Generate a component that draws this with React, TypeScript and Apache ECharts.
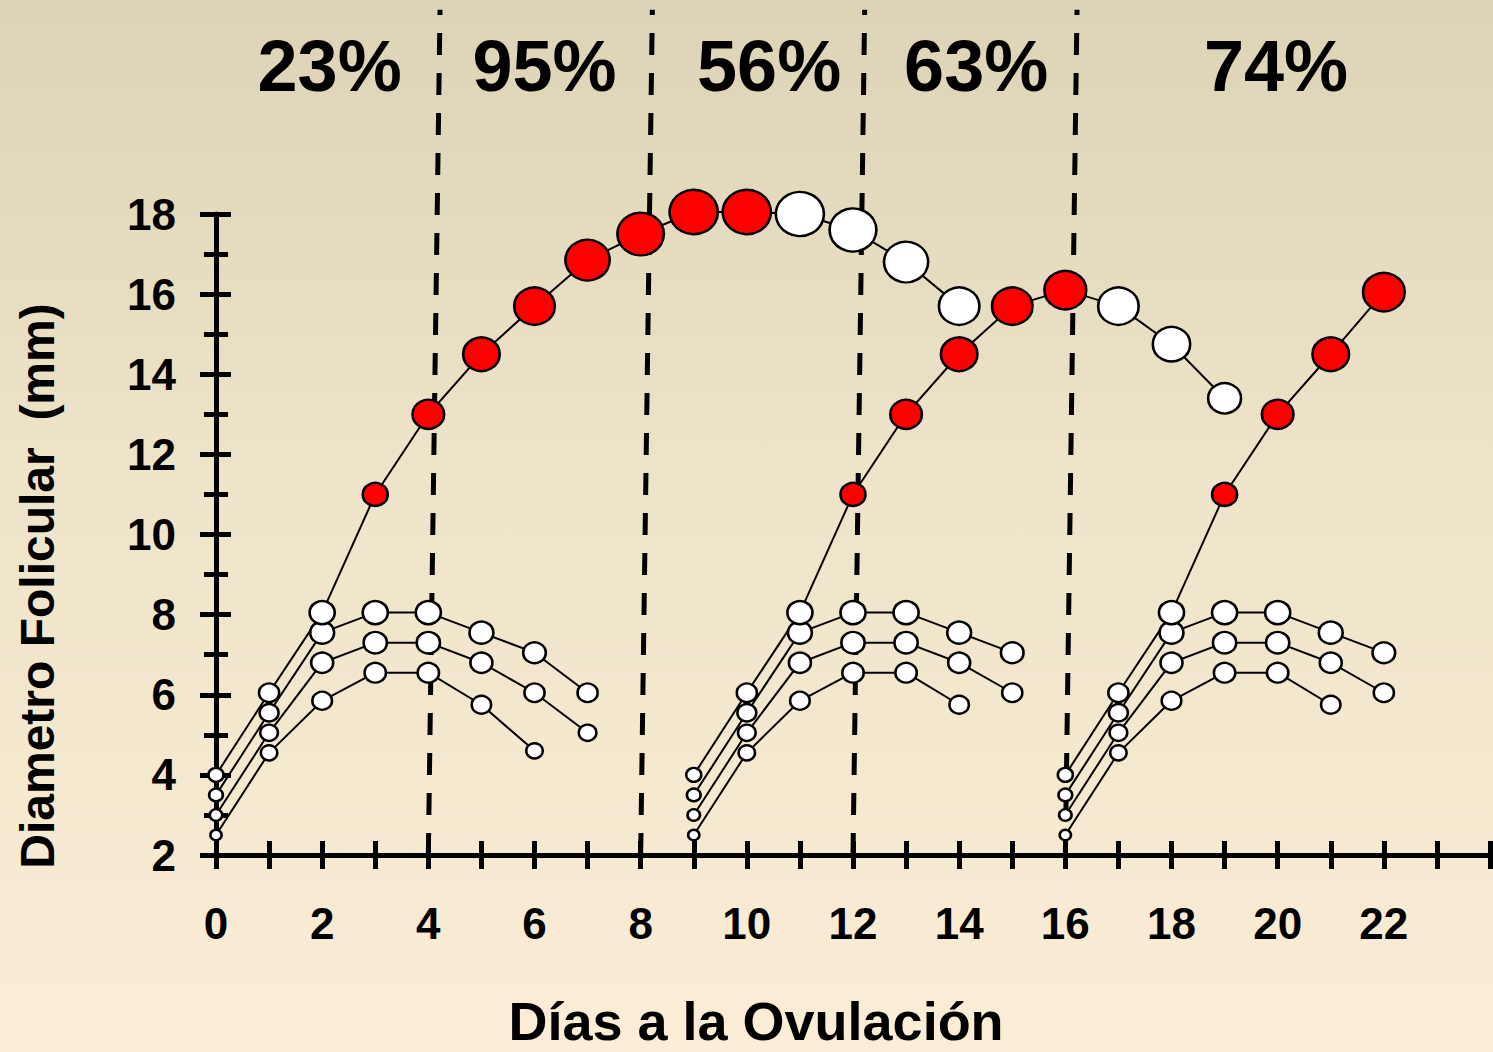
import React, { useEffect, useRef } from "react";
import * as echarts from "echarts";

// ---- data (days after ovulation, follicle diameter in mm) ----
const xTickLabels = [0, 2, 4, 6, 8, 10, 12, 14, 16, 18, 20, 22];

const wave1Start = 0;
const wave1Dominant = [4, 6.05, 8.05, 11, 13, 14.5, 15.7, 16.85, 17.5, 18.05, 18.05, 18, 17.6, 16.8, 15.7];
const wave1Growth = [3, 10];
const wave1SubA = [3.5, 5.55, 7.55, 8.05, 8.05, 7.55, 7.05, 6.05];
const wave1SubB = [3, 5.05, 6.8, 7.3, 7.3, 6.8, 6.05, 5.05];
const wave1SubC = [2.5, 4.55, 5.85, 6.55, 6.55, 5.75, 4.6];

const wave2Start = 9;
const wave2Dominant = [4, 6.05, 8.05, 11, 13, 14.5, 15.7, 16.1, 15.7, 14.75, 13.4];
const wave2Growth = [12, 16];
const wave2SubA = [3.5, 5.55, 7.55, 8.05, 8.05, 7.55, 7.05];
const wave2SubB = [3, 5.05, 6.8, 7.3, 7.3, 6.8, 6.05];
const wave2SubC = [2.5, 4.55, 5.85, 6.55, 6.55, 5.75];

const wave3Start = 16;
const wave3Dominant = [4, 6.05, 8.05, 11, 13, 14.5, 16.05];
const wave3Growth = [19, 22];
const wave3SubA = [3.5, 5.55, 7.55, 8.05, 8.05, 7.55, 7.05];
const wave3SubB = [3, 5.05, 6.8, 7.3, 7.3, 6.8, 6.05];
const wave3SubC = [2.5, 4.55, 5.85, 6.55, 6.55, 5.75];

const phaseBounds = [4, 8, 12, 16];
const phaseLabels = ["23%", "95%", "56%", "63%", "74%"];
const phaseCenters = [2.14, 6.19, 10.42, 14.32, 19.97];

const FONT = "'Liberation Sans', Arial, Helvetica, sans-serif";

function markerSize(v: number): number[] {
  const w = v < 10 ? 5 + 2.5 * v : 25 + 3.3 * (v - 11);
  return [w, w * 0.92];
}

function track(start: number, vals: number[], growth?: number[]) {
  return {
    type: "line",
    silent: true,
    z: 3,
    clip: false,
    symbol: "circle",
    symbolSize: (val: number[]) => markerSize(val[1]),
    lineStyle: { color: "#000", width: 2 },
    itemStyle: { color: "#fff", borderColor: "#000", borderWidth: 2.5 },
    emphasis: { disabled: true },
    data: vals.map((v, i) => {
      const d = start + i;
      const red = growth ? d >= growth[0] && d <= growth[1] : false;
      return {
        value: [d, v],
        itemStyle: { color: red ? "#FF0000" : "#FFFFFF" },
      };
    }),
  };
}

export default function App() {
  const ref = useRef<HTMLDivElement>(null);

  useEffect(() => {
    const chart = echarts.init(ref.current!, undefined, { renderer: "svg" });

    const dashed = phaseBounds.map((b) => ({
      type: "line",
      silent: true,
      z: 1,
      clip: false,
      symbol: "none",
      lineStyle: { color: "#000", width: 5, type: [22, 18] },
      data: [
        [b, 2],
        [b + 0.22, 23.1],
      ],
    }));

    const axisCommonX = {
      type: "value",
      min: 0,
      max: 24,
      interval: 1,
      splitLine: { show: false },
    };
    const axisCommonY = {
      type: "value",
      min: 2,
      max: 18,
      interval: 2,
      splitLine: { show: false },
      minorSplitLine: { show: false },
    };

    chart.setOption({
      animation: false,
      backgroundColor: "transparent",
      grid: { left: 216, right: 0, top: 214, bottom: 197, containLabel: false },
      xAxis: [
        {
          ...axisCommonX,
          position: "bottom",
          axisLine: { show: true, lineStyle: { color: "#000", width: 5 } },
          axisTick: { show: true, length: 14, lineStyle: { color: "#000", width: 5 } },
          axisLabel: {
            color: "#000",
            fontSize: 44,
            fontWeight: "bold",
            fontFamily: FONT,
            margin: 46,
            formatter: (v: number) => (xTickLabels.indexOf(v) >= 0 ? String(v) : ""),
          },
        },
        {
          ...axisCommonX,
          position: "bottom",
          axisLine: { show: false },
          axisTick: { show: true, inside: true, length: 14, lineStyle: { color: "#000", width: 5 } },
          axisLabel: { show: false },
        },
      ],
      yAxis: [
        {
          ...axisCommonY,
          position: "left",
          axisLine: { show: true, lineStyle: { color: "#000", width: 5 } },
          axisTick: { show: true, length: 16, lineStyle: { color: "#000", width: 5 } },
          minorTick: { show: true, splitNumber: 2, length: 12, lineStyle: { color: "#000", width: 5 } },
          axisLabel: {
            color: "#000",
            fontSize: 44,
            fontWeight: "bold",
            fontFamily: FONT,
            margin: 40,
          },
        },
        {
          ...axisCommonY,
          position: "left",
          axisLine: { show: false },
          axisTick: { show: true, inside: true, length: 15, lineStyle: { color: "#000", width: 5 } },
          minorTick: { show: true, splitNumber: 2, length: 12, lineStyle: { color: "#000", width: 5 } },
          axisLabel: { show: false },
        },
      ],
      series: [
        ...dashed,
        track(wave1Start, wave1SubC),
        track(wave1Start, wave1SubB),
        track(wave1Start, wave1SubA),
        track(wave1Start, wave1Dominant, wave1Growth),
        track(wave2Start, wave2SubC),
        track(wave2Start, wave2SubB),
        track(wave2Start, wave2SubA),
        track(wave2Start, wave2Dominant, wave2Growth),
        track(wave3Start, wave3SubC),
        track(wave3Start, wave3SubB),
        track(wave3Start, wave3SubA),
        track(wave3Start, wave3Dominant, wave3Growth),
      ],
    });

    const pctTexts = phaseLabels.map((t, i) => {
      const px = chart.convertToPixel({ xAxisIndex: 0 }, phaseCenters[i]) as number;
      return {
        type: "text",
        x: px,
        y: 66,
        silent: true,
        style: {
          text: t,
          fill: "#000",
          font: `bold 72px ${FONT}`,
          textAlign: "center",
          textVerticalAlign: "middle",
        },
      };
    });

    chart.setOption({
      graphic: [
        ...pctTexts,
        {
          type: "text",
          x: 37,
          y: 586,
          rotation: Math.PI / 2,
          silent: true,
          style: {
            text: "Diametro Folicular  (mm)",
            fill: "#000",
            font: `bold 48px ${FONT}`,
            textAlign: "center",
            textVerticalAlign: "middle",
          },
        },
        {
          type: "text",
          x: 756,
          y: 1021,
          silent: true,
          style: {
            text: "Días a la Ovulación",
            fill: "#000",
            font: `bold 54px ${FONT}`,
            lineHeight: 54,
            textAlign: "center",
            textVerticalAlign: "middle",
          },
        },
      ],
    });

    return () => chart.dispose();
  }, []);

  return (
    <div
      style={{
        position: "absolute",
        left: 0,
        top: 0,
        width: 1493,
        height: 1052,
        overflow: "hidden",
        background: "linear-gradient(to bottom, #DDD3B6 0%, #EDE4C9 45%, #FCEDD6 100%)",
      }}
    >
      <div ref={ref} style={{ width: 1493, height: 1052 }} />
    </div>
  );
}
